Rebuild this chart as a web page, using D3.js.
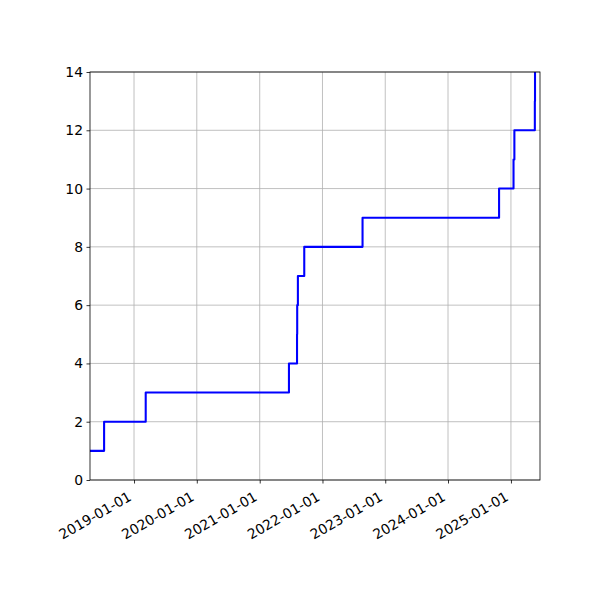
<!DOCTYPE html>
<html>
<head>
<meta charset="utf-8">
<script src="https://cdn.jsdelivr.net/npm/d3@7"></script>
<style>
  body { margin: 0; background: #fff; }
  text { font-family: "DejaVu Sans", sans-serif; }
</style>
</head>
<body>
<div id="chart"></div>
<script>
// dates at which the running count goes up
const eventDates = ["2018-07-11", "2019-03-10", "2021-06-20", "2021-08-06", "2021-08-07",
  "2021-08-11", "2021-09-17", "2022-08-22", "2024-10-24", "2025-01-16",
  "2025-01-21", "2025-05-20", "2025-05-21"];
const counts = [2, 3, 4, 5, 6, 7, 8, 9, 10, 11, 12, 13, 14];
const startDate = "2018-04-20", startCount = 1;
const endDate = "2025-06-19";
const yTicks = [0, 2, 4, 6, 8, 10, 12, 14];
const xTicks = ["2019-01-01", "2020-01-01", "2021-01-01", "2022-01-01", "2023-01-01", "2024-01-01", "2025-01-01"];

var margin = {top: 72, right: 60, bottom: 120, left: 90},
    width = 600 - margin.left - margin.right,
    height = 600 - margin.top - margin.bottom;

const parse = d3.utcParse("%Y-%m-%d");

const svg = d3.select("#chart")
  .append("svg")
    .attr("width", 600)
    .attr("height", 600)
  .append("g")
    .attr("transform", `translate(${margin.left},${margin.top})`);

const x = d3.scaleUtc()
  .domain([parse(startDate), parse(endDate)])
  .range([0, width]);

const y = d3.scaleLinear()
  .domain([0, 14])
  .range([height, 0]);

// grid
svg.append("g")
  .selectAll("line")
  .data(xTicks)
  .join("line")
    .attr("x1", d => x(parse(d))).attr("x2", d => x(parse(d)))
    .attr("y1", 0).attr("y2", height)
    .attr("stroke", "#b0b0b0").attr("stroke-width", 0.8);
svg.append("g")
  .selectAll("line")
  .data(yTicks)
  .join("line")
    .attr("x1", 0).attr("x2", width)
    .attr("y1", d => y(d)).attr("y2", d => y(d))
    .attr("stroke", "#b0b0b0").attr("stroke-width", 0.8);

// data line, clipped to the axes box
svg.append("clipPath").attr("id", "clip")
  .append("rect").attr("width", width).attr("height", height);

const pts = [{date: parse(startDate), v: startCount}]
  .concat(eventDates.map((d, i) => ({date: parse(d), v: counts[i]})));

svg.append("path")
  .datum(pts)
  .attr("clip-path", "url(#clip)")
  .attr("d", d3.line()
    .x(d => x(d.date))
    .y(d => y(d.v))
    .curve(d3.curveStepAfter))
  .attr("fill", "none")
  .attr("stroke", "blue")
  .attr("stroke-width", 2.08)
  .attr("stroke-linejoin", "round");

// axes
const yAxis = svg.append("g")
  .call(d3.axisLeft(y).tickValues(yTicks).tickSize(3.5).tickPadding(3.5).tickSizeOuter(0));
yAxis.select(".domain").remove();
yAxis.selectAll("line").attr("stroke", "black").attr("stroke-width", 0.8);
yAxis.selectAll("text").style("font-size", "13.9px").style("font-family", "DejaVu Sans").attr("fill", "black");

const xAxis = svg.append("g")
  .attr("transform", `translate(0,${height})`)
  .call(d3.axisBottom(x).tickValues(xTicks.map(parse)).tickFormat(d3.utcFormat("%Y-%m-%d"))
    .tickSize(3.5).tickSizeOuter(0));
xAxis.select(".domain").remove();
xAxis.selectAll("line").attr("stroke", "black").attr("stroke-width", 0.8);
xAxis.selectAll("text")
  .style("font-size", "13.9px")
  .style("font-family", "DejaVu Sans")
  .attr("fill", "black")
  .attr("y", 0).attr("dy", 0)
  .style("text-anchor", "end")
  .attr("transform", "translate(-2,19.5)rotate(-30)");

// frame
svg.append("rect")
  .attr("width", width).attr("height", height)
  .attr("fill", "none").attr("stroke", "black").attr("stroke-width", 0.8);
</script>
</body>
</html>
